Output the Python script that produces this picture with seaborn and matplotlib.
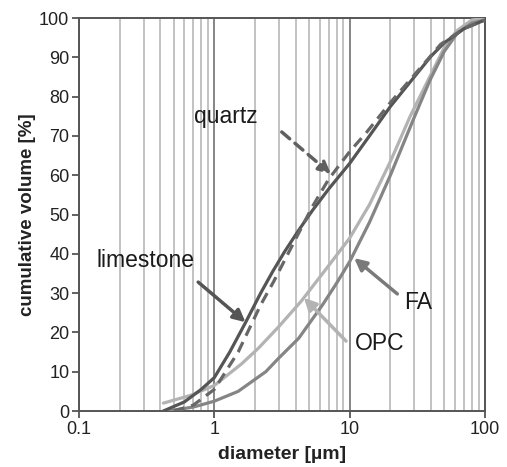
import numpy as np
import seaborn as sns
import matplotlib.pyplot as plt

# cumulative particle size distributions
limestone_d = [0.42, 0.6, 0.8, 1.0, 1.3, 1.7, 2.2, 2.7, 3.3, 4.2, 5.3, 7.0, 10, 14, 20, 30, 40, 50, 70, 100]
limestone_v = [0, 2.3, 5.5, 8.5, 15.0, 22.5, 30.0, 35.5, 40.5, 46.0, 51.0, 56.5, 63.0, 70.0, 77.5, 85.0, 90.3, 93.7, 97.3, 99.5]

quartz_d = [0.5, 0.7, 1.0, 1.5, 2.2, 2.75, 3.75, 5.3, 7.0, 10, 13.4, 20, 30, 47, 70, 100]
quartz_v = [0, 1.5, 5.5, 15.0, 27.0, 33.0, 42.0, 52.0, 59.0, 66.0, 71.0, 78.5, 85.5, 93.3, 97.3, 99.5]

opc_d = [0.42, 0.67, 1.0, 1.59, 2.12, 3.0, 4.4, 7.0, 10, 14, 20, 28, 39, 50, 62, 80, 100]
opc_v = [2.0, 4.0, 6.5, 12.0, 16.0, 21.5, 28.0, 37.0, 44.0, 52.5, 63.5, 75.0, 85.0, 92.5, 96.8, 99.5, 100]

fa_d = [0.45, 0.7, 1.0, 1.5, 2.4, 3.0, 4.2, 6.3, 8.0, 10, 14, 20, 29.4, 39, 50, 62, 80, 100]
fa_v = [0, 1.0, 2.5, 5.0, 10.0, 13.5, 18.5, 27.0, 32.5, 38.0, 48.0, 60.0, 74.0, 84.0, 91.5, 96.0, 98.7, 99.5]

sns.set_style("white")
plt.rcParams['font.family'] = ['Liberation Sans', 'DejaVu Sans']

fig = plt.figure(figsize=(5.07, 4.67), dpi=100)
ax = fig.add_axes([0.1558, 0.1199, 0.8008, 0.8415])

sns.lineplot(x=opc_d, y=opc_v, ax=ax, color='#b3b3b3', lw=2.3, zorder=3)
sns.lineplot(x=fa_d, y=fa_v, ax=ax, color='#858585', lw=2.3, zorder=3)
sns.lineplot(x=limestone_d, y=limestone_v, ax=ax, color='#555555', lw=2.3, zorder=4)
sns.lineplot(x=quartz_d, y=quartz_v, ax=ax, color='#676767', lw=2.3, zorder=5,
             linestyle=(0, (3.5, 2.2)))
for ln in ax.lines:
    ln.set_solid_joinstyle('round')

ax.set_xscale('log')
ax.set_xlim(0.1, 100)
ax.set_ylim(0, 100)
ax.set_xticks([0.1, 1, 10, 100])
ax.set_xticklabels(['0.1', '1', '10', '100'])
minor = [m * 10.0**e for e in (-1, 0, 1) for m in range(2, 10)]
ax.set_xticks(minor, minor=True)
ax.set_yticks(np.arange(0, 101, 10))

ax.grid(which='minor', axis='x', color='#bdbdbd', lw=1.3)
ax.grid(which='major', axis='x', color='#7c7c7c', lw=1.3)
ax.grid(which='both', axis='y', visible=False)
ax.set_axisbelow(True)

for s in ax.spines.values():
    s.set_color('#555555')
    s.set_linewidth(1.4)

ax.tick_params(axis='both', which='major', direction='out', length=5, width=1.3,
               color='#555555', labelsize=13, labelcolor='#222222', pad=2)
ax.tick_params(axis='x', which='minor', length=0)
ax.tick_params(left=True, bottom=True)

ax.set_xlabel('diameter [µm]', fontsize=14, fontweight='bold', color='#222222', labelpad=6)
ax.set_ylabel('cumulative volume [%]', fontsize=13.5, fontweight='bold', color='#222222', labelpad=2)

# labels with arrows
txt = dict(fontsize=16.5, color='#1a1a1a', ha='center', va='center')
ax.text(1.21, 75, 'quartz', **txt)
ax.text(0.312, 38.2, 'limestone', **txt)
ax.text(31.8, 27.7, 'FA', **txt)
ax.text(16.6, 17.3, 'OPC', **txt)

ax.annotate('', xy=(7.28, 60.3), xytext=(3.15, 71),
            arrowprops=dict(arrowstyle='-|>', color='#606060', lw=2.5,
                            linestyle=(0, (3, 2)), mutation_scale=18, shrinkA=0, shrinkB=0))
ax.annotate('', xy=(1.70, 22.6), xytext=(0.76, 32.8),
            arrowprops=dict(arrowstyle='-|>', color='#555555', lw=2.5,
                            mutation_scale=18, shrinkA=0, shrinkB=0))
ax.annotate('', xy=(10.8, 38.9), xytext=(22.5, 29.8),
            arrowprops=dict(arrowstyle='-|>', color='#7a7a7a', lw=2.5,
                            mutation_scale=18, shrinkA=0, shrinkB=0))
ax.annotate('', xy=(4.59, 28.8), xytext=(9.4, 17.8),
            arrowprops=dict(arrowstyle='-|>', color='#b3b3b3', lw=2.5,
                            mutation_scale=18, shrinkA=0, shrinkB=0))

fig.savefig('out.png', dpi=100)
